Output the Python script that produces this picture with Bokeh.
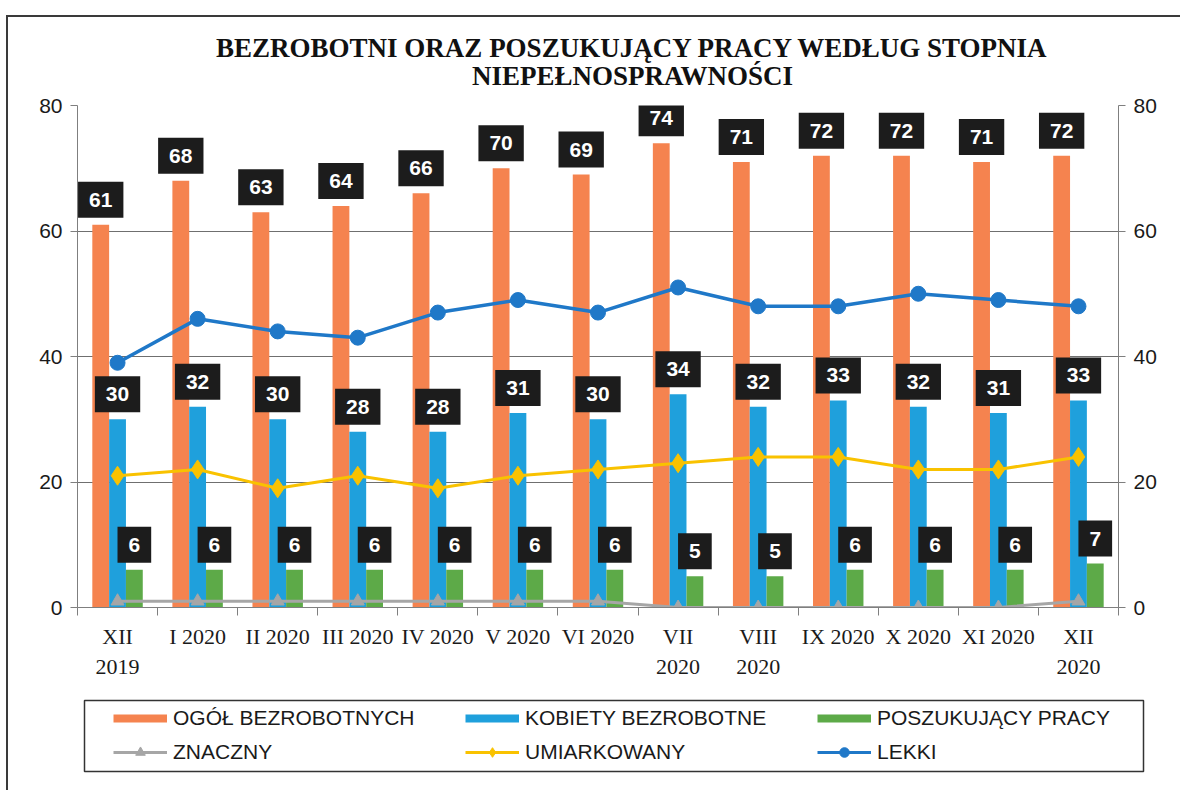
from bokeh.plotting import figure
from bokeh.models import (Range1d, LinearAxis, FixedTicker, ColumnDataSource,
                          Legend, LegendItem, Label)
from bokeh.layouts import column
from bokeh.core.properties import value
from bokeh.transform import dodge
from bokeh.embed import file_html
from bokeh.resources import INLINE

categories = ["XII\n2019", "I 2020", "II 2020", "III 2020", "IV 2020", "V 2020",
              "VI 2020", "VII\n2020", "VIII\n2020", "IX 2020", "X 2020",
              "XI 2020", "XII\n2020"]
ogol = [61, 68, 63, 64, 66, 70, 69, 74, 71, 72, 72, 71, 72]
kobiety = [30, 32, 30, 28, 28, 31, 30, 34, 32, 33, 32, 31, 33]
poszukujacy = [6, 6, 6, 6, 6, 6, 6, 5, 5, 6, 6, 6, 7]
znaczny = [1, 1, 1, 1, 1, 1, 1, 0, 0, 0, 0, 0, 1]
umiarkowany = [21, 22, 19, 21, 19, 21, 22, 23, 24, 24, 22, 22, 24]
lekki = [39, 46, 44, 43, 47, 49, 47, 51, 48, 48, 50, 49, 48]
y_ticks = [0, 20, 40, 60, 80]
title_lines = ["BEZROBOTNI ORAZ POSZUKUJĄCY PRACY WEDŁUG STOPNIA",
               "NIEPEŁNOSPRAWNOŚCI"]
legend_labels = ["OGÓŁ BEZROBOTNYCH", "KOBIETY BEZROBOTNE", "POSZUKUJĄCY PRACY",
                 "ZNACZNY", "UMIARKOWANY", "LEKKI"]

C_OGOL = "#F5834F"
C_KOB = "#1FA0DC"
C_POSZ = "#5DAA48"
C_ZN = "#A6A6A6"
C_UM = "#F9C200"
C_LEK = "#1F78C8"
AX = "#7f7f7f"
W = 1172

xs = list(range(len(categories)))
src = ColumnDataSource(dict(
    x=xs, ogol=ogol, kobiety=kobiety, posz=poszukujacy,
    zn=znaczny, um=umiarkowany, lek=lekki))

# ---------------- title strip (x in page px of the aligned frame) ----------------
tf = figure(width=W, height=73, output_backend="svg", toolbar_location=None,
            x_range=Range1d(77, 1118), y_range=Range1d(0, 73), min_border=0,
            x_axis_location=None, y_axis_location=None)
tf.grid.visible = False
tf.outline_line_color = None
tf.text(x=[632, 632], y=[43, 15], text=title_lines, text_align="center",
        text_baseline="middle", text_font=value("Liberation Serif"),
        text_font_size="27px", text_font_style="bold", text_color="#111111")

# ---------------- main chart ----------------
p = figure(width=W, height=600, output_backend="svg", toolbar_location=None,
           x_range=Range1d(-0.5, len(categories) - 0.5), y_range=Range1d(0, 80),
           min_border_left=69, min_border_right=W - 1110, min_border_top=15,
           min_border_bottom=83)
p.extra_y_ranges = {"right": Range1d(0, 80)}
p.outline_line_color = None

BW = 0.21
p.vbar(x=dodge("x", -BW, range=p.x_range), top="ogol", width=BW, source=src,
       fill_color=C_OGOL, line_color=None)
p.vbar(x=dodge("x", 0, range=p.x_range), top="kobiety", width=BW, source=src,
       fill_color=C_KOB, line_color=None)
p.vbar(x=dodge("x", BW, range=p.x_range), top="posz", width=BW, source=src,
       fill_color=C_POSZ, line_color=None)

p.line("x", "zn", source=src, y_range_name="right", line_color=C_ZN, line_width=3)
p.scatter("x", "zn", source=src, y_range_name="right", marker="triangle",
          size=13, fill_color=C_ZN, line_color=C_ZN)
p.line("x", "um", source=src, y_range_name="right", line_color=C_UM, line_width=3)
p.scatter("x", "um", source=src, y_range_name="right", marker="diamond",
          size=19, fill_color=C_UM, line_color=C_UM)
p.line("x", "lek", source=src, y_range_name="right", line_color=C_LEK, line_width=3.5)
p.scatter("x", "lek", source=src, y_range_name="right", marker="circle",
          size=15, fill_color=C_LEK, line_color=C_LEK)

for off, vals in ((-BW, ogol), (0, kobiety), (BW, poszukujacy)):
    for i, v in enumerate(vals):
        p.add_layout(Label(x=xs[i] + off, y=v, text=str(v), text_align="center",
                           text_baseline="bottom", text_color="white",
                           text_font="Liberation Sans", text_font_size="21px",
                           text_font_style="bold", background_fill_color="#1c1c1c",
                           padding=11, y_offset=7))

p.yaxis.ticker = FixedTicker(ticks=y_ticks)
ra = LinearAxis(y_range_name="right", ticker=FixedTicker(ticks=y_ticks))
p.add_layout(ra, "right")
for ax in (p.yaxis[0], ra):
    ax.major_label_text_font = "Liberation Sans"
    ax.major_label_text_font_size = "21px"
    ax.major_label_text_color = "#1a1a1a"
    ax.axis_line_color = AX
    ax.major_tick_line_color = AX
    ax.major_tick_out = 7
    ax.major_tick_in = 0
    ax.minor_tick_line_color = None
    ax.major_label_standoff = 8

xa = p.xaxis[0]
xa.ticker = FixedTicker(ticks=xs, minor_ticks=[i - 0.5 for i in range(len(categories) + 1)])
xa.major_label_overrides = {i: c for i, c in enumerate(categories)}
xa.major_tick_line_color = None
xa.minor_tick_line_color = AX
xa.minor_tick_out = 8
xa.minor_tick_in = 0
xa.axis_line_color = AX
xa.major_label_text_font = "Liberation Serif"
xa.major_label_text_font_size = "22px"
xa.major_label_text_color = "#1a1a1a"
xa.major_label_standoff = 8

p.xgrid.grid_line_color = None
p.ygrid.ticker = FixedTicker(ticks=y_ticks)
p.ygrid.grid_line_color = "#6f6f6f"
p.ygrid.grid_line_width = 1

# ---------------- legend strip (page coordinates, y downward) ----------------
lg = figure(width=W, height=100, output_backend="svg", toolbar_location=None,
            x_range=Range1d(8, 8 + W), y_range=Range1d(790, 690), min_border=0,
            x_axis_location=None, y_axis_location=None)
lg.grid.visible = False
lg.outline_line_color = None
lg.extra_y_ranges = {"off": Range1d(1000, 1001)}
lg.quad(left=[84], right=[1143], top=[700], bottom=[771], fill_color=None,
        line_color="#333333", line_width=1.5)
hid = dict(source=src, y_range_name="off")
g1 = lg.line("x", "ogol", line_color=C_OGOL, line_width=8, line_cap="butt", **hid)
g2 = lg.line("x", "kobiety", line_color=C_KOB, line_width=8, line_cap="butt", **hid)
g3 = lg.line("x", "posz", line_color=C_POSZ, line_width=8, line_cap="butt", **hid)
g4 = [lg.line("x", "zn", line_color=C_ZN, line_width=3, **hid),
      lg.scatter("x", "zn", marker="triangle", size=11, fill_color=C_ZN, line_color=C_ZN, **hid)]
g5 = [lg.line("x", "um", line_color=C_UM, line_width=3, **hid),
      lg.scatter("x", "um", marker="diamond", size=14, fill_color=C_UM, line_color=C_UM, **hid)]
g6 = [lg.line("x", "lek", line_color=C_LEK, line_width=3, **hid),
      lg.scatter("x", "lek", marker="circle", size=11, fill_color=C_LEK, line_color=C_LEK, **hid)]
rends = [[g1], [g2], [g3], g4, g5, g6]
legend = Legend(items=[LegendItem(label=l, renderers=r) for l, r in zip(legend_labels, rends)],
                location=(105, 26), orientation="horizontal", ncols=3, margin=0,
                glyph_width=54, glyph_height=24, label_height=24, label_standoff=6,
                label_width=282, spacing=10, padding=0,
                label_text_font="Liberation Sans", label_text_font_size="21px",
                label_text_color="#1a1a1a", border_line_color=None,
                background_fill_alpha=0)
lg.add_layout(legend, "center")

layout = column(column(tf, p, spacing=0), lg, spacing=0,
                styles={"margin-left": "6px", "margin-top": "15px",
                        "border-top": "2px solid #3a3a3a",
                        "border-left": "2px solid #3a3a3a"})
open("out.html", "w").write(file_html(layout, INLINE))
